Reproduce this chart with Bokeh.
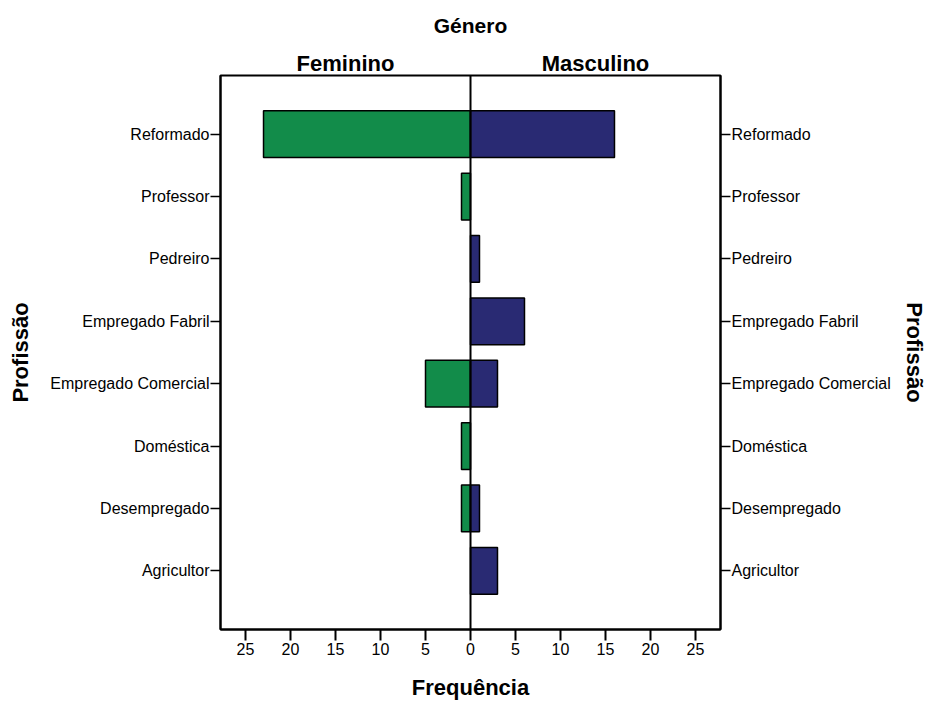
from bokeh.plotting import figure
from bokeh.models import FixedTicker, LinearAxis, Span, Range1d, ColumnDataSource
from bokeh.embed import file_html
from bokeh.resources import INLINE

categories = ["Agricultor", "Desempregado", "Doméstica", "Empregado Comercial",
              "Empregado Fabril", "Pedreiro", "Professor", "Reformado"]
feminino = [0, 1, 1, 5, 0, 0, 1, 23]
masculino = [3, 1, 0, 3, 6, 1, 0, 16]
x_ticks = [-25, -20, -15, -10, -5, 0, 5, 10, 15, 20, 25]
panel_labels = ["Feminino", "Masculino"]

GREEN = "#128c4a"
NAVY = "#292a73"
FONT = "Liberation Sans"

ypos = list(range(len(categories)))
f_src = ColumnDataSource(dict(y=[ypos[i] for i, v in enumerate(feminino) if v > 0],
                              left=[-v for v in feminino if v > 0]))
m_src = ColumnDataSource(dict(y=[ypos[i] for i, v in enumerate(masculino) if v > 0],
                              right=[v for v in masculino if v > 0]))

XMAX = 27.78
p = figure(width=930, height=702, output_backend="svg", toolbar_location=None,
           x_range=Range1d(-XMAX, XMAX), y_range=Range1d(-0.94, 7.94))
p.min_border_left = 220
p.min_border_right = 210
p.min_border_top = 75
p.min_border_bottom = 73
p.xgrid.visible = False
p.ygrid.visible = False
p.outline_line_color = "black"
p.outline_line_width = 2
p.background_fill_color = "white"
p.border_fill_color = "white"

p.hbar(y="y", left="left", right=0, height=0.75, source=f_src,
       fill_color=GREEN, line_color="black", line_width=1.5)
p.hbar(y="y", left=0, right="right", height=0.75, source=m_src,
       fill_color=NAVY, line_color="black", line_width=1.5)

p.add_layout(Span(location=0, dimension="height", line_color="black", line_width=2, level="overlay"))

# x axis
xa = p.xaxis[0]
xa.ticker = FixedTicker(ticks=x_ticks)
xa.major_label_overrides = {t: str(abs(t)) for t in x_ticks}
xa.minor_tick_line_color = None
xa.major_tick_out = 11
xa.major_tick_in = 0
xa.major_tick_line_width = 2
xa.axis_line_width = 2
xa.major_label_standoff = 2
xa.major_label_text_font = FONT
xa.major_label_text_font_size = "16px"
xa.major_label_text_color = "black"
xa.axis_label = "Frequência"
xa.axis_label_text_font = FONT
xa.axis_label_text_font_style = "bold"
xa.axis_label_text_font_size = "22px"
xa.axis_label_text_color = "black"
xa.axis_label_standoff = 17

cat_over = {i: c for i, c in enumerate(categories)}

def style_y(ax, standoff):
    ax.ticker = FixedTicker(ticks=ypos)
    ax.major_label_overrides = cat_over
    ax.minor_tick_line_color = None
    ax.major_tick_out = 10
    ax.major_tick_in = 0
    ax.major_tick_line_width = 1.5
    ax.axis_line_width = 2
    ax.major_label_standoff = 1
    ax.major_label_text_font = FONT
    ax.major_label_text_font_size = "16px"
    ax.major_label_text_color = "black"
    ax.axis_label = "Profissão"
    ax.axis_label_text_font = FONT
    ax.axis_label_text_font_style = "bold"
    ax.axis_label_text_font_size = "22px"
    ax.axis_label_text_color = "black"
    ax.axis_label_standoff = standoff

style_y(p.yaxis[0], 14)
ra = LinearAxis()
style_y(ra, 8)
p.add_layout(ra, "right")

# top panel labels (Feminino / Masculino) as an axis above the frame
half = XMAX / 2
top_ticks = [-half, half]
ta = LinearAxis(ticker=FixedTicker(ticks=top_ticks),
                major_label_overrides={top_ticks[0]: panel_labels[0], top_ticks[1]: panel_labels[1]})
ta.axis_line_color = None
ta.major_tick_line_color = None
ta.minor_tick_line_color = None
ta.major_tick_out = 0
ta.major_tick_in = 0
ta.major_label_standoff = 0
ta.major_label_text_font = FONT
ta.major_label_text_font_style = "bold"
ta.major_label_text_font_size = "22px"
ta.major_label_text_color = "black"
p.add_layout(ta, "above")

p.title.text = "Género"
p.title.align = "center"
p.title.text_font = FONT
p.title.text_font_style = "bold"
p.title.text_font_size = "21px"
p.title.text_color = "black"
p.title.standoff = 21

open("out.html", "w").write(file_html(p, INLINE))
